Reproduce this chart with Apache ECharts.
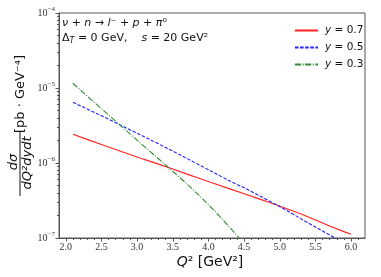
<!DOCTYPE html>
<html><head><meta charset="utf-8">
<script src="https://cdn.jsdelivr.net/npm/echarts@6/dist/echarts.min.js"></script>
<style>html,body{margin:0;padding:0;background:#fff}#c{width:381px;height:277px}</style>
</head><body><div id="c"></div>
<script>
const xRed = [2.1,2.3,2.5,2.7,2.9,3.1,3.3,3.5,3.7,3.9,4.1,4.3,4.5,4.7,4.9,5.1,5.3,5.5,5.7,5.9,6.0];
const yRed = [2.415e-6,2.065e-6,1.77e-6,1.514e-6,1.30e-6,1.117e-6,9.66e-7,8.32e-7,7.11e-7,6.10e-7,5.25e-7,4.52e-7,3.89e-7,3.35e-7,2.88e-7,2.45e-7,2.09e-7,1.74e-7,1.445e-7,1.216e-7,1.12e-7];
const xBlue = [2.1,2.3,2.5,2.7,2.9,3.1,3.3,3.5,3.7,3.9,4.1,4.3,4.5,4.7,4.9,5.1,5.3,5.5,5.7,5.8];
const yBlue = [6.46e-6,5.25e-6,4.27e-6,3.44e-6,2.77e-6,2.24e-6,1.80e-6,1.445e-6,1.148e-6,9.12e-7,7.24e-7,5.75e-7,4.68e-7,3.72e-7,2.95e-7,2.32e-7,1.80e-7,1.40e-7,1.10e-7,9.7e-8];
const xGreen = [2.1,2.3,2.5,2.7,2.9,3.1,3.3,3.5,3.7,3.9,4.1,4.3,4.45,4.5];
const yGreen = [1.156e-5,7.82e-6,5.30e-6,3.59e-6,2.44e-6,1.667e-6,1.14e-6,7.76e-7,5.25e-7,3.47e-7,2.24e-7,1.38e-7,9.55e-8,8.3e-8];
const seriesNames = ['y = 0.7','y = 0.5','y = 0.3'];
const xMajor = [2.0,2.5,3.0,3.5,4.0,4.5,5.0,5.5,6.0];
const xMinor = [2.1,2.2,2.3,2.4,2.6,2.7,2.8,2.9,3.1,3.2,3.3,3.4,3.6,3.7,3.8,3.9,4.1,4.2,4.3,4.4,4.6,4.7,4.8,4.9,5.1,5.2,5.3,5.4,5.6,5.7,5.8,5.9,6.1];
const yMajor = [1e-7,1e-6,1e-5,1e-4];
const yMinor = [2e-7,3e-7,4e-7,5e-7,6e-7,7e-7,8e-7,9e-7,2e-6,3e-6,4e-6,5e-6,6e-6,7e-6,8e-6,9e-6,2e-5,3e-5,4e-5,5e-5,6e-5,7e-5,8e-5,9e-5];

const zip = (xs, ys) => xs.map((x, i) => [x, ys[i]]);
const chart = echarts.init(document.getElementById('c'), null, {renderer: 'canvas'});
const axisCol = '#555';
const serif = 'Liberation Serif';
const sans = 'DejaVu Sans';
const colors = ['#ff2020', '#2020ff', '#2e8b2e'];
const dashes = ['solid', [3.5, 1.6], [6, 1.6, 1, 1.6]];
const lineS = (i) => ({type: 'line', symbol: 'none', showSymbol: false, clip: true, smooth: false,
  lineStyle: {color: colors[i], width: 1.1, type: dashes[i]}, itemStyle: {color: colors[i]}});
chart.setOption({
  animation: false,
  grid: {left: 59, right: 16, top: 13, bottom: 39, show: true, borderColor: axisCol, borderWidth: 1},
  xAxis: [{
    type: 'value', min: 1.905, max: 6.195,
    axisLine: {show: true, lineStyle: {color: axisCol}},
    axisTick: {show: true, length: 3.5, lineStyle: {color: axisCol}, customValues: xMajor},
    axisLabel: {customValues: xMajor, fontFamily: serif, fontSize: 10, color: '#333', margin: 4,
      formatter: v => v.toFixed(1)},
    splitLine: {show: false}
  }, {
    type: 'value', min: 1.905, max: 6.195, position: 'bottom',
    axisLine: {show: false},
    axisTick: {show: true, length: 2, lineStyle: {color: axisCol}, customValues: xMinor},
    axisLabel: {show: false}, splitLine: {show: false}
  }],
  yAxis: [{
    type: 'log', logBase: 10, min: 1e-7, max: 1e-4,
    axisLine: {show: true, lineStyle: {color: axisCol}},
    axisTick: {show: true, length: 3.5, lineStyle: {color: axisCol}, customValues: yMajor},
    axisLabel: {customValues: yMajor, margin: 4,
      formatter: v => '{a|10}{b|−' + Math.round(-Math.log10(v)) + '}',
      rich: {a: {fontFamily: serif, fontSize: 10, color: '#333'},
             b: {fontFamily: serif, fontSize: 7, color: '#333', padding: [0, 0, 7, 0]}}},
    splitLine: {show: false}
  }, {
    type: 'log', logBase: 10, min: 1e-7, max: 1e-4, position: 'left',
    axisLine: {show: false},
    axisTick: {show: true, length: 2, lineStyle: {color: axisCol}, customValues: yMinor},
    axisLabel: {show: false}, splitLine: {show: false}
  }],
  legend: {
    orient: 'vertical', left: 289, top: 20, itemWidth: 23, itemHeight: 10, itemGap: 6,
    data: seriesNames,
    itemStyle: {opacity: 0, borderWidth: 0},
    formatter: n => '{i|y} = ' + n.split('= ')[1],
    textStyle: {fontFamily: sans, fontSize: 10.5, color: '#111', padding: [0,0,0,2],
      rich: {i: {fontFamily: sans, fontStyle: 'italic', fontSize: 10.5, color: '#111'}}}
  },
  series: [
    Object.assign(lineS(0), {name: seriesNames[0], data: zip(xRed, yRed)}),
    Object.assign(lineS(1), {name: seriesNames[1], data: zip(xBlue, yBlue)}),
    Object.assign(lineS(2), {name: seriesNames[2], data: zip(xGreen, yGreen)})
  ],
  graphic: [
    {type: 'text', left: 62, top: 18, style: {
      text: '{i|ν} + {i|n} → {i|l}⁻ + {i|p} + {i|π}⁰', fill: '#111',
      font: '11px "DejaVu Sans"',
      rich: {i: {fontStyle: 'italic', fontFamily: sans, fontSize: 11}}}},
    {type: 'text', left: 62, top: 33, style: {
      text: 'Δ{s|T} = 0 GeV,    {i|s} = 20 GeV²', fill: '#111',
      font: '11px "DejaVu Sans"',
      rich: {i: {fontStyle: 'italic', fontFamily: sans, fontSize: 11},
             s: {fontStyle: 'italic', fontFamily: sans, fontSize: 8, padding: [5, 0, 0, 0]}}}},
    {type: 'text', x: 210, y: 262, style: {
      text: '{i|Q}² [GeV²]', fill: '#111', align: 'center', verticalAlign: 'middle',
      font: '14px "DejaVu Sans"',
      rich: {i: {fontStyle: 'italic', fontFamily: sans, fontSize: 14}}}},
    {type: 'text', x: 21, y: 94, rotation: Math.PI / 2, style: {
      text: '[pb · GeV⁻⁴]', fill: '#111', align: 'center', verticalAlign: 'middle',
      font: '13px "DejaVu Sans"'}},
    {type: 'text', x: 14, y: 162, rotation: Math.PI / 2, style: {
      text: 'dσ', fill: '#111', align: 'center', verticalAlign: 'middle',
      font: 'italic 13px "DejaVu Sans"'}},
    {type: 'line', shape: {x1: 20, y1: 131, x2: 20, y2: 196}, style: {stroke: '#111', lineWidth: 1}},
    {type: 'text', x: 27.5, y: 163, rotation: Math.PI / 2, style: {
      text: 'dQ²dydt', fill: '#111', align: 'center', verticalAlign: 'middle',
      font: 'italic 13px "DejaVu Sans"'}}
  ]
});
</script></body></html>
